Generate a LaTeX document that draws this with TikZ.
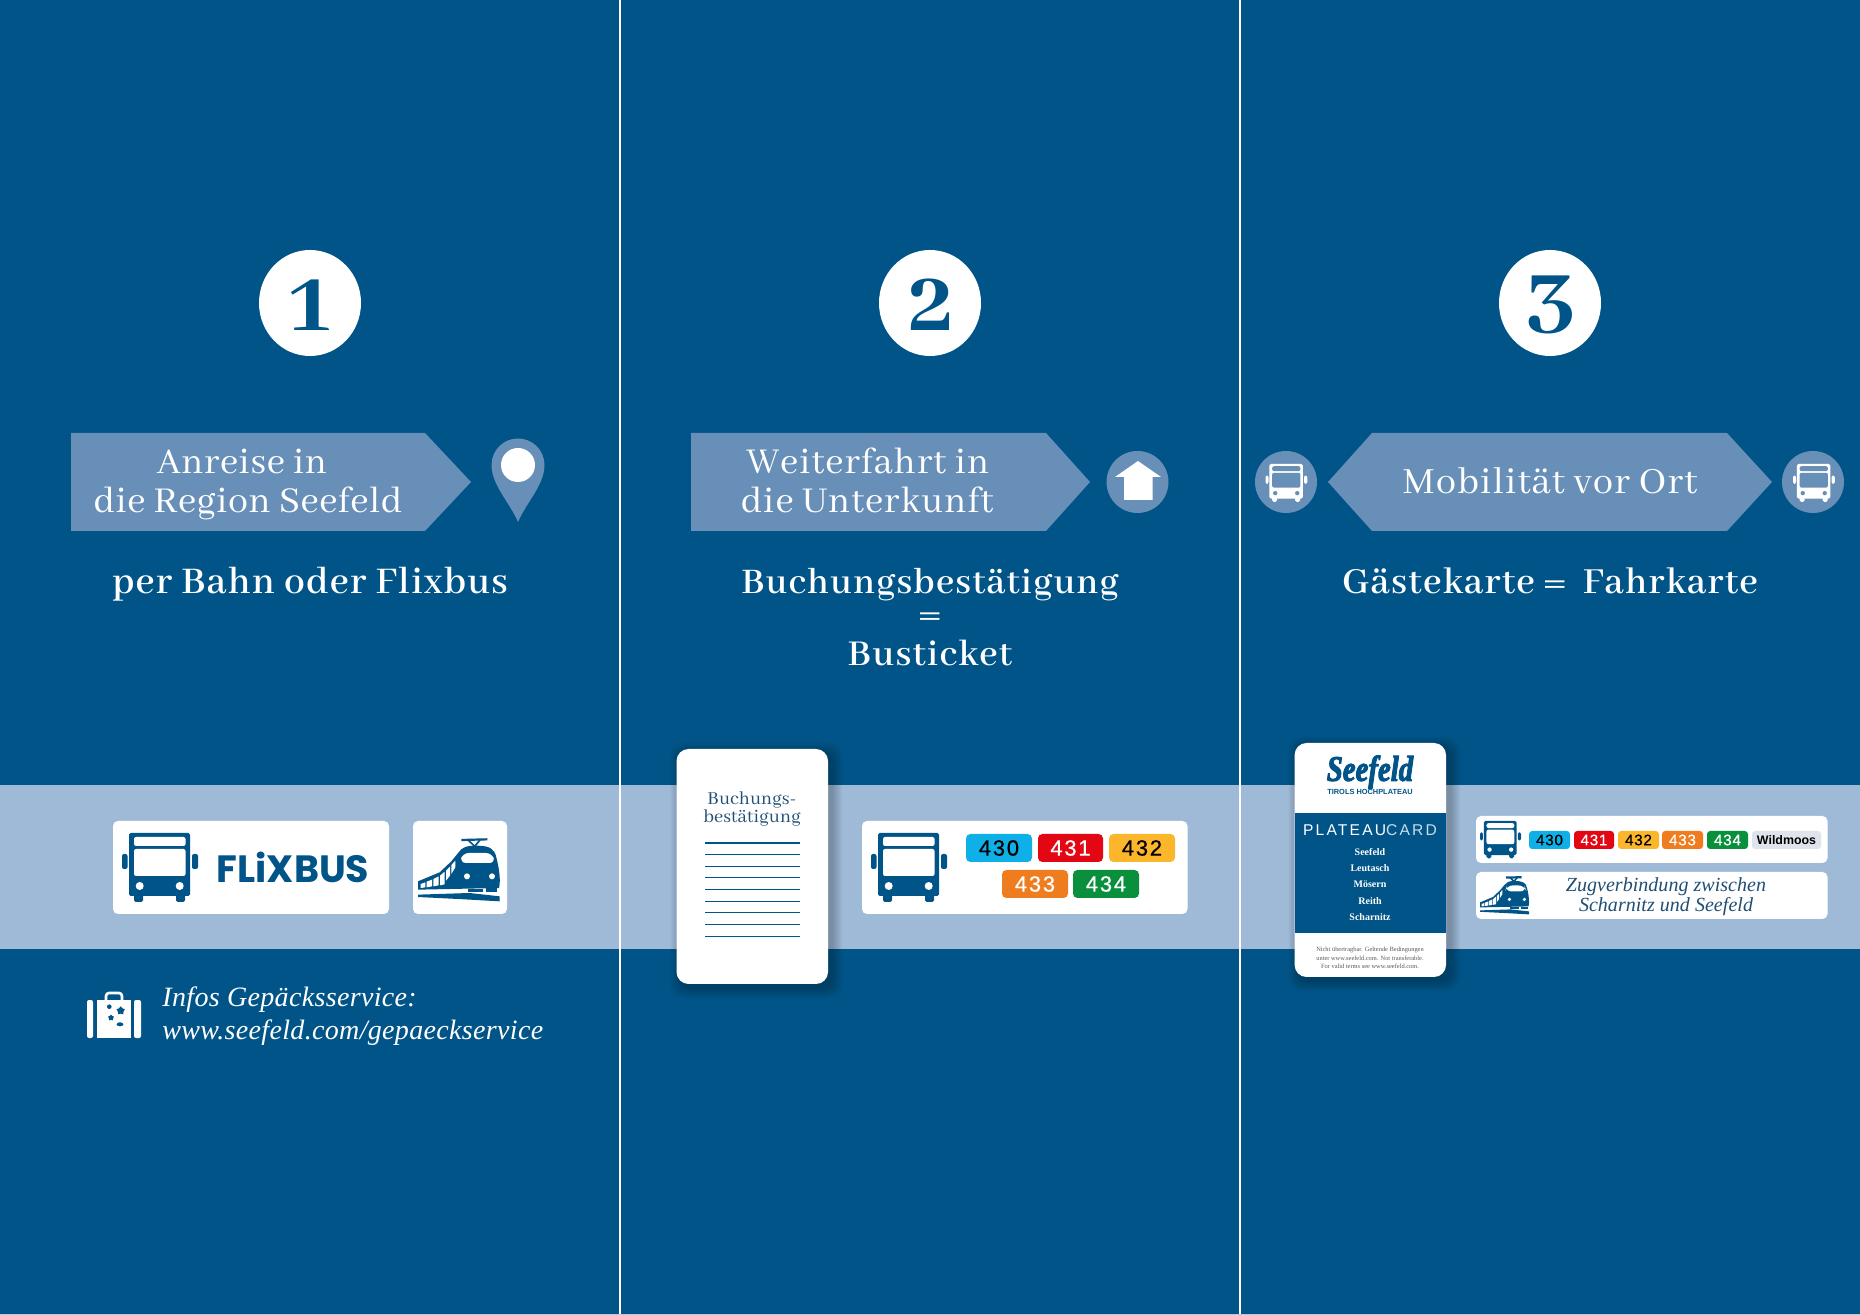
\documentclass[tikz,border=0pt]{standalone}
\usepackage{fontspec}
\usetikzlibrary{shapes.geometric}
\setmainfont{Abhaya Libre}
\newfontfamily\headfont[LetterSpace=2.6]{Abhaya Libre}
\newfontfamily\headtight[LetterSpace=1.4]{Abhaya Libre}
\newfontfamily\notefont[LetterSpace=0.5]{Abhaya Libre}
\newfontfamily\leadfont[LetterSpace=3]{Abhaya Libre SemiBold}
\newfontfamily\digitfont{Abhaya Libre ExtraBold}
\newfontfamily\itfont[LetterSpace=1.2,Ligatures=TeX]{Liberation Serif Italic}
\newfontfamily\zugfont[LetterSpace=0.2,Ligatures=TeX]{Liberation Serif Italic}
\newfontfamily\pillfont[LetterSpace=8,FakeBold=0.6]{Liberation Sans}
\newfontfamily\pillsmall[LetterSpace=5,FakeBold=0.6]{Liberation Sans}
\newfontfamily\plainsans{Liberation Sans}
\newfontfamily\pcardfont[LetterSpace=14]{Liberation Sans}
\newfontfamily\logofont{Poppins}
\newfontfamily\seefont[FakeBold=3]{Liberation Serif Bold Italic}
\newfontfamily\cardserif{Liberation Serif}
\definecolor{bgblue}{HTML}{005488}
\definecolor{bandblue}{HTML}{9FBAD7}
\definecolor{midblue}{HTML}{688FB8}
\definecolor{inkblue}{HTML}{1F4E74}
\definecolor{pCyan}{HTML}{0FB0E8}
\definecolor{pRed}{HTML}{E30613}
\definecolor{pYellow}{HTML}{FBB62B}
\definecolor{pOrange}{HTML}{EF7D1F}
\definecolor{pGreen}{HTML}{0A8F3C}
\definecolor{pGrey}{HTML}{DFE4EC}
\newcommand{\fz}[1]{\fontsize{#1}{#1}\selectfont}
\tikzset{
  x=0.5pt,y=-0.5pt,
  pics/buspic/.style n args={2}{code={
    \fill[#1,rounded corners=0.8] (7,0) rectangle (68,63);
    \fill[#1,rounded corners=0.8] (12,60) rectangle (21,69);
    \fill[#1,rounded corners=0.8] (54,60) rectangle (63,69);
    \fill[#1,rounded corners=1] (0,21) rectangle (5.5,36);
    \fill[#1,rounded corners=1] (70,21) rectangle (76,36);
    \fill[#2,rounded corners=1] (12,4) rectangle (63.5,13);
    \fill[#2,rounded corners=1] (12,16) rectangle (63.5,43);
    \fill[#2] (17.7,53) circle (4);
    \fill[#2] (57.7,53) circle (4);
  }},
  pics/trainpic/.style n args={2}{code={
    \begin{scope}[scale=0.3333]
    \draw[#1,line width=1.1pt] (130,3) -- (208,1);
    \draw[#1,line width=.8pt] (150,3) -- (170,22) -- (187,2) (170,22) -- (170,32);
    \fill[#1] (0,127) -- (0,152) -- (243,147) .. controls (248,125) and (245,95) .. (235,55)
       .. controls (230,30) and (215,20) .. (175,20) .. controls (145,20) and (132,25) .. (122,40)
       -- (100,67) -- (65,100) -- cycle;
    \fill[#2,rounded corners=3] (134,42) -- (222,42) -- (232,72) -- (126,72) -- cycle;
    \fill[#2] (8,135) -- (22,130) -- (22,145) -- (8,147) -- cycle;
    \fill[#2] (26,128) -- (42,122) -- (42,142) -- (26,145) -- cycle;
    \fill[#2] (46,120) -- (62,112) -- (62,139) -- (46,142) -- cycle;
    \fill[#2] (66,110) -- (80,98) -- (80,136) -- (66,139) -- cycle;
    \fill[#2] (84,95) -- (96,83) -- (96,110) -- (84,125) -- cycle;
    \fill[#2] (100,78) -- (112,65) -- (112,85) -- (100,105) -- cycle;
    \fill[#2] (147,112) circle (9);
    \fill[#2] (222,112) circle (9);
    \fill[#1] (150,150) rectangle (195,158);
    \fill[#1] (205,148) rectangle (238,160);
    \fill[#1] (0,167) -- (155,162) -- (245,172) -- (245,187) -- (120,180) -- (0,174) -- cycle;
    \end{scope}
  }},
  softshadow/.style={fill=black,fill opacity=0.022},
  whitebox/.style={fill=white,rounded corners=2.5pt},
  arrowbox/.style={fill=midblue},
}
\newcommand{\bigpill}[7]{%
  \fill[#6,rounded corners=2.2pt] (#2,#3) rectangle (#4,#5);
  \node[text=#7,inner sep=0,font=\pillfont\fz{11}] (#1) at ({(#2+#4)/2},{(#3+#5)/2}) {#1};}
\newcommand{\smallpill}[7]{%
  \fill[#6,rounded corners=1.6pt] (#2,#3) rectangle (#4,#5);
  \node[text=#7,inner sep=0,font=\pillsmall\fz{7.6}] (s#1) at ({(#2+#4)/2},{(#3+#5)/2}) {#1};}
\newcommand{\softcard}[5]{%
  \foreach \d in {1,2,...,10}{
    \fill[softshadow,rounded corners=#5] ({#1+4-\d},{#2+4-\d}) rectangle ({#3+4+\d},{#4+4+\d});}
  \fill[white,rounded corners=#5] (#1,#2) rectangle (#3,#4);}
\begin{document}
\begin{tikzpicture}
\useasboundingbox (0,0) rectangle (1860,1315);
\fill[bgblue] (0,0) rectangle (1860,1315);
\fill[bandblue] (0,785) rectangle (1860,949);
\draw[white,line width=.9pt] (620,0) -- (620,1315);
\draw[white,line width=.9pt] (1240,0) -- (1240,1315);
\draw[white!70!bgblue,line width=.6pt] (0,1314.5) -- (1860,1314.5);

% number circles
\foreach \cx/\dx/\n in {310/310/1,930/932/2,1550/1551/3}{
  \fill[white] (\cx,303) ellipse (51 and 53);
  \node[text=bgblue,inner sep=0,font=\digitfont\fz{48}] (num\n) at (\dx,305) {\n};
}

% column 1 header
\fill[arrowbox] (71,433) -- (425,433) -- (471,482) -- (425,531) -- (71,531) -- cycle;
\node[white,inner sep=0,anchor=base,font=\headtight\fz{20}] (t1a) at (242,474) {Anreise in};
\node[white,inner sep=0,anchor=base,font=\headtight\fz{20}] (t1b) at (248,513) {die Region Seefeld};
\fill[midblue] (518,522) .. controls (510,503) and (491.5,485) .. (491.5,465)
  arc[start angle=180,end angle=0,x radius=26.5,y radius=-26.5]
  .. controls (544.5,485) and (526,503) .. (518,522) -- cycle;
\fill[white] (518,465) circle (17);
\node[white,inner sep=0,anchor=base,font=\leadfont\fz{20.7}] (lead1) at (310,594) {per Bahn oder Flixbus};

% column 2 header
\fill[arrowbox] (691,433) -- (1046,433) -- (1090,482) -- (1046,531) -- (691,531) -- cycle;
\node[white,inner sep=0,anchor=base,font=\headfont\fz{20}] (t2a) at (868,474) {Weiterfahrt in};
\node[white,inner sep=0,anchor=base,font=\headfont\fz{20}] (t2b) at (867,513) {die Unterkunft};
\fill[midblue] (1137.5,482) circle (31);
\fill[white] (1115,477) -- (1138,461) -- (1161,477) -- (1152.7,477) -- (1152.7,500) -- (1124,500) -- (1124,477) -- cycle;
\node[white,inner sep=0,anchor=base,font=\leadfont\fz{19.8}] (lead2a) at (930,594) {Buchungsbestätigung};
\node[white,inner sep=0,font=\leadfont\fz{26}] (lead2b) at (930,621) {=};
\node[white,inner sep=0,anchor=base,font=\leadfont\fz{20}] (lead2c) at (930,666) {Busticket};

% column 3 header
\fill[arrowbox] (1328,482) -- (1372,433) -- (1727,433) -- (1772,482) -- (1727,531) -- (1372,531) -- cycle;
\node[white,inner sep=0,anchor=base,font=\headfont\fz{20.3}] (t3) at (1550,494) {Mobilität vor Ort};
\fill[midblue] (1286,482) circle (31);
\fill[midblue] (1813,482) circle (31);
\pic[scale=0.55] at (1265.5,464) {buspic={white}{midblue}};
\pic[scale=0.55] at (1793,464) {buspic={white}{midblue}};
\node[white,inner sep=0,anchor=base,font=\leadfont\fz{20.2}] (lead3) at (1550,594) {Gästekarte {\fz{26}\raisebox{-1.5pt}{=}}\, Fahrkarte};

% column 1 band
\fill[whitebox] (113,821) rectangle (389,914);
\fill[whitebox] (413,821) rectangle (507,914);
\pic at (122,833) {buspic={bgblue}{white}};
\node[text=bgblue,inner sep=0,font=\logofont\bfseries\fz{19}] (flix) at (293,867.5) {FLiXBUS};
\pic at (418,839) {trainpic={bgblue}{white}};

% suitcase
\fill[white,rounded corners=1pt] (87,1000) rectangle (93,1038);
\fill[white,rounded corners=1pt] (134,1000) rectangle (141,1038);
\fill[white] (96.5,1000) rectangle (130.5,1038);
\draw[white,line width=1.3pt,rounded corners=1.5pt] (106,1000) -- (106,993) -- (122,993) -- (122,1000);
\fill[bgblue] (109.3,1006.7) circle (2.3);
\node[star,star points=5,fill=bgblue,inner sep=0,minimum size=4.4pt] (s1) at (120.7,1010.7) {};
\node[star,star points=5,fill=bgblue,inner sep=0,minimum size=3.2pt] (s2) at (111,1017.7) {};
\fill[bgblue] (120,1024.3) ellipse (3.4 and 2);
\node[white,inner sep=0,anchor=base west,font=\itfont\fz{14}] (info1) at (162,1007) {Infos Gepäcksservice:};
\node[white,inner sep=0,anchor=base west,font=\itfont\fz{14}] (info2) at (162,1039) {www.seefeld.com/gepaeckservice};

% column 2 band
\softcard{676.5}{749}{828}{984}{6pt}
\node[text=inkblue,inner sep=0,anchor=base,font=\notefont\fz{10}] (bu1) at (752,805) {Buchungs-};
\node[text=inkblue,inner sep=0,anchor=base,font=\notefont\fz{10}] (bu2) at (752,823) {bestätigung};
\foreach \i in {0,...,8}{
  \draw[bgblue,line width=.55pt] (705,843+11.65*\i) -- (800,843+11.65*\i);
}
\fill[whitebox] (862,821) rectangle (1187.5,914);
\pic at (871,833) {buspic={bgblue}{white}};
\bigpill{430}{966}{834}{1032}{862}{pCyan}{black}
\bigpill{431}{1038}{834}{1103}{862}{pRed}{white}
\bigpill{432}{1109}{834}{1175}{862}{pYellow}{black}
\bigpill{433}{1002}{870}{1068}{898}{pOrange}{white}
\bigpill{434}{1073}{870}{1139}{898}{pGreen}{white}

% column 3 band
\softcard{1294.6}{743}{1446}{977}{6pt}
\fill[bgblue] (1294.6,813) rectangle (1446,933);
\node[text=bgblue,inner sep=0,font=\seefont\fz{18}] (logo) at (1370,772) {\scalebox{.8}[1]{Seefeld}};
\node[text=bgblue,inner sep=0,font=\plainsans\bfseries\fz{3.7}] (tirol) at (1370,792) {TIROLS HOCHPLATEAU};
\node[white,inner sep=0,font=\pcardfont\fz{7.8}] (pcard) at (1370,830) {PLATEAU\textcolor{white!80!bgblue}{CARD}};
\foreach \nm/\yy/\k in {Seefeld/852/a,Leutasch/868/b,Mösern/884/c,Reith/900.7/d,Scharnitz/916.7/e}{
  \node[white,inner sep=0,font=\cardserif\bfseries\fz{5}] (ort\k) at (1370,\yy) {\nm};
}
\node[text=black!65,inner sep=0,font=\cardserif\fz{3.2}] (fine1) at (1370,950) {Nicht übertragbar. Geltende Bedingungen};
\node[text=black!65,inner sep=0,font=\cardserif\fz{3.2}] (fine2) at (1370,958) {unter www.seefeld.com. Not transferable.};
\node[text=black!65,inner sep=0,font=\cardserif\fz{3.2}] (fine3) at (1370,966) {For valid terms see www.seefeld.com.};
\fill[whitebox] (1476,816) rectangle (1827.5,863);
\fill[whitebox] (1476,872) rectangle (1827.5,919);
\pic[scale=0.54] at (1480,821) {buspic={bgblue}{white}};
\smallpill{430}{1529}{831}{1570}{849}{pCyan}{black}
\smallpill{431}{1574}{831}{1614}{849}{pRed}{white}
\smallpill{432}{1618}{831}{1659}{849}{pYellow}{black}
\smallpill{433}{1662}{831}{1703}{849}{pOrange}{white}
\smallpill{434}{1707}{831}{1748}{849}{pGreen}{white}
\fill[pGrey,rounded corners=1.5pt] (1752,831) rectangle (1821,849);
\node[text=black,inner sep=0,font=\plainsans\fz{6.2}] (wild) at (1786.5,840) {\textbf{Wildmoos}};
\pic[scale=0.6] at (1480,877) {trainpic={bgblue}{white}};
\node[text=inkblue,inner sep=0,anchor=base,font=\zugfont\fz{10}] (zug1) at (1666,892) {Zugverbindung zwischen};
\node[text=inkblue,inner sep=0,anchor=base,font=\zugfont\fz{10}] (zug2) at (1666,912) {Scharnitz und Seefeld};
\end{tikzpicture}
\end{document}
